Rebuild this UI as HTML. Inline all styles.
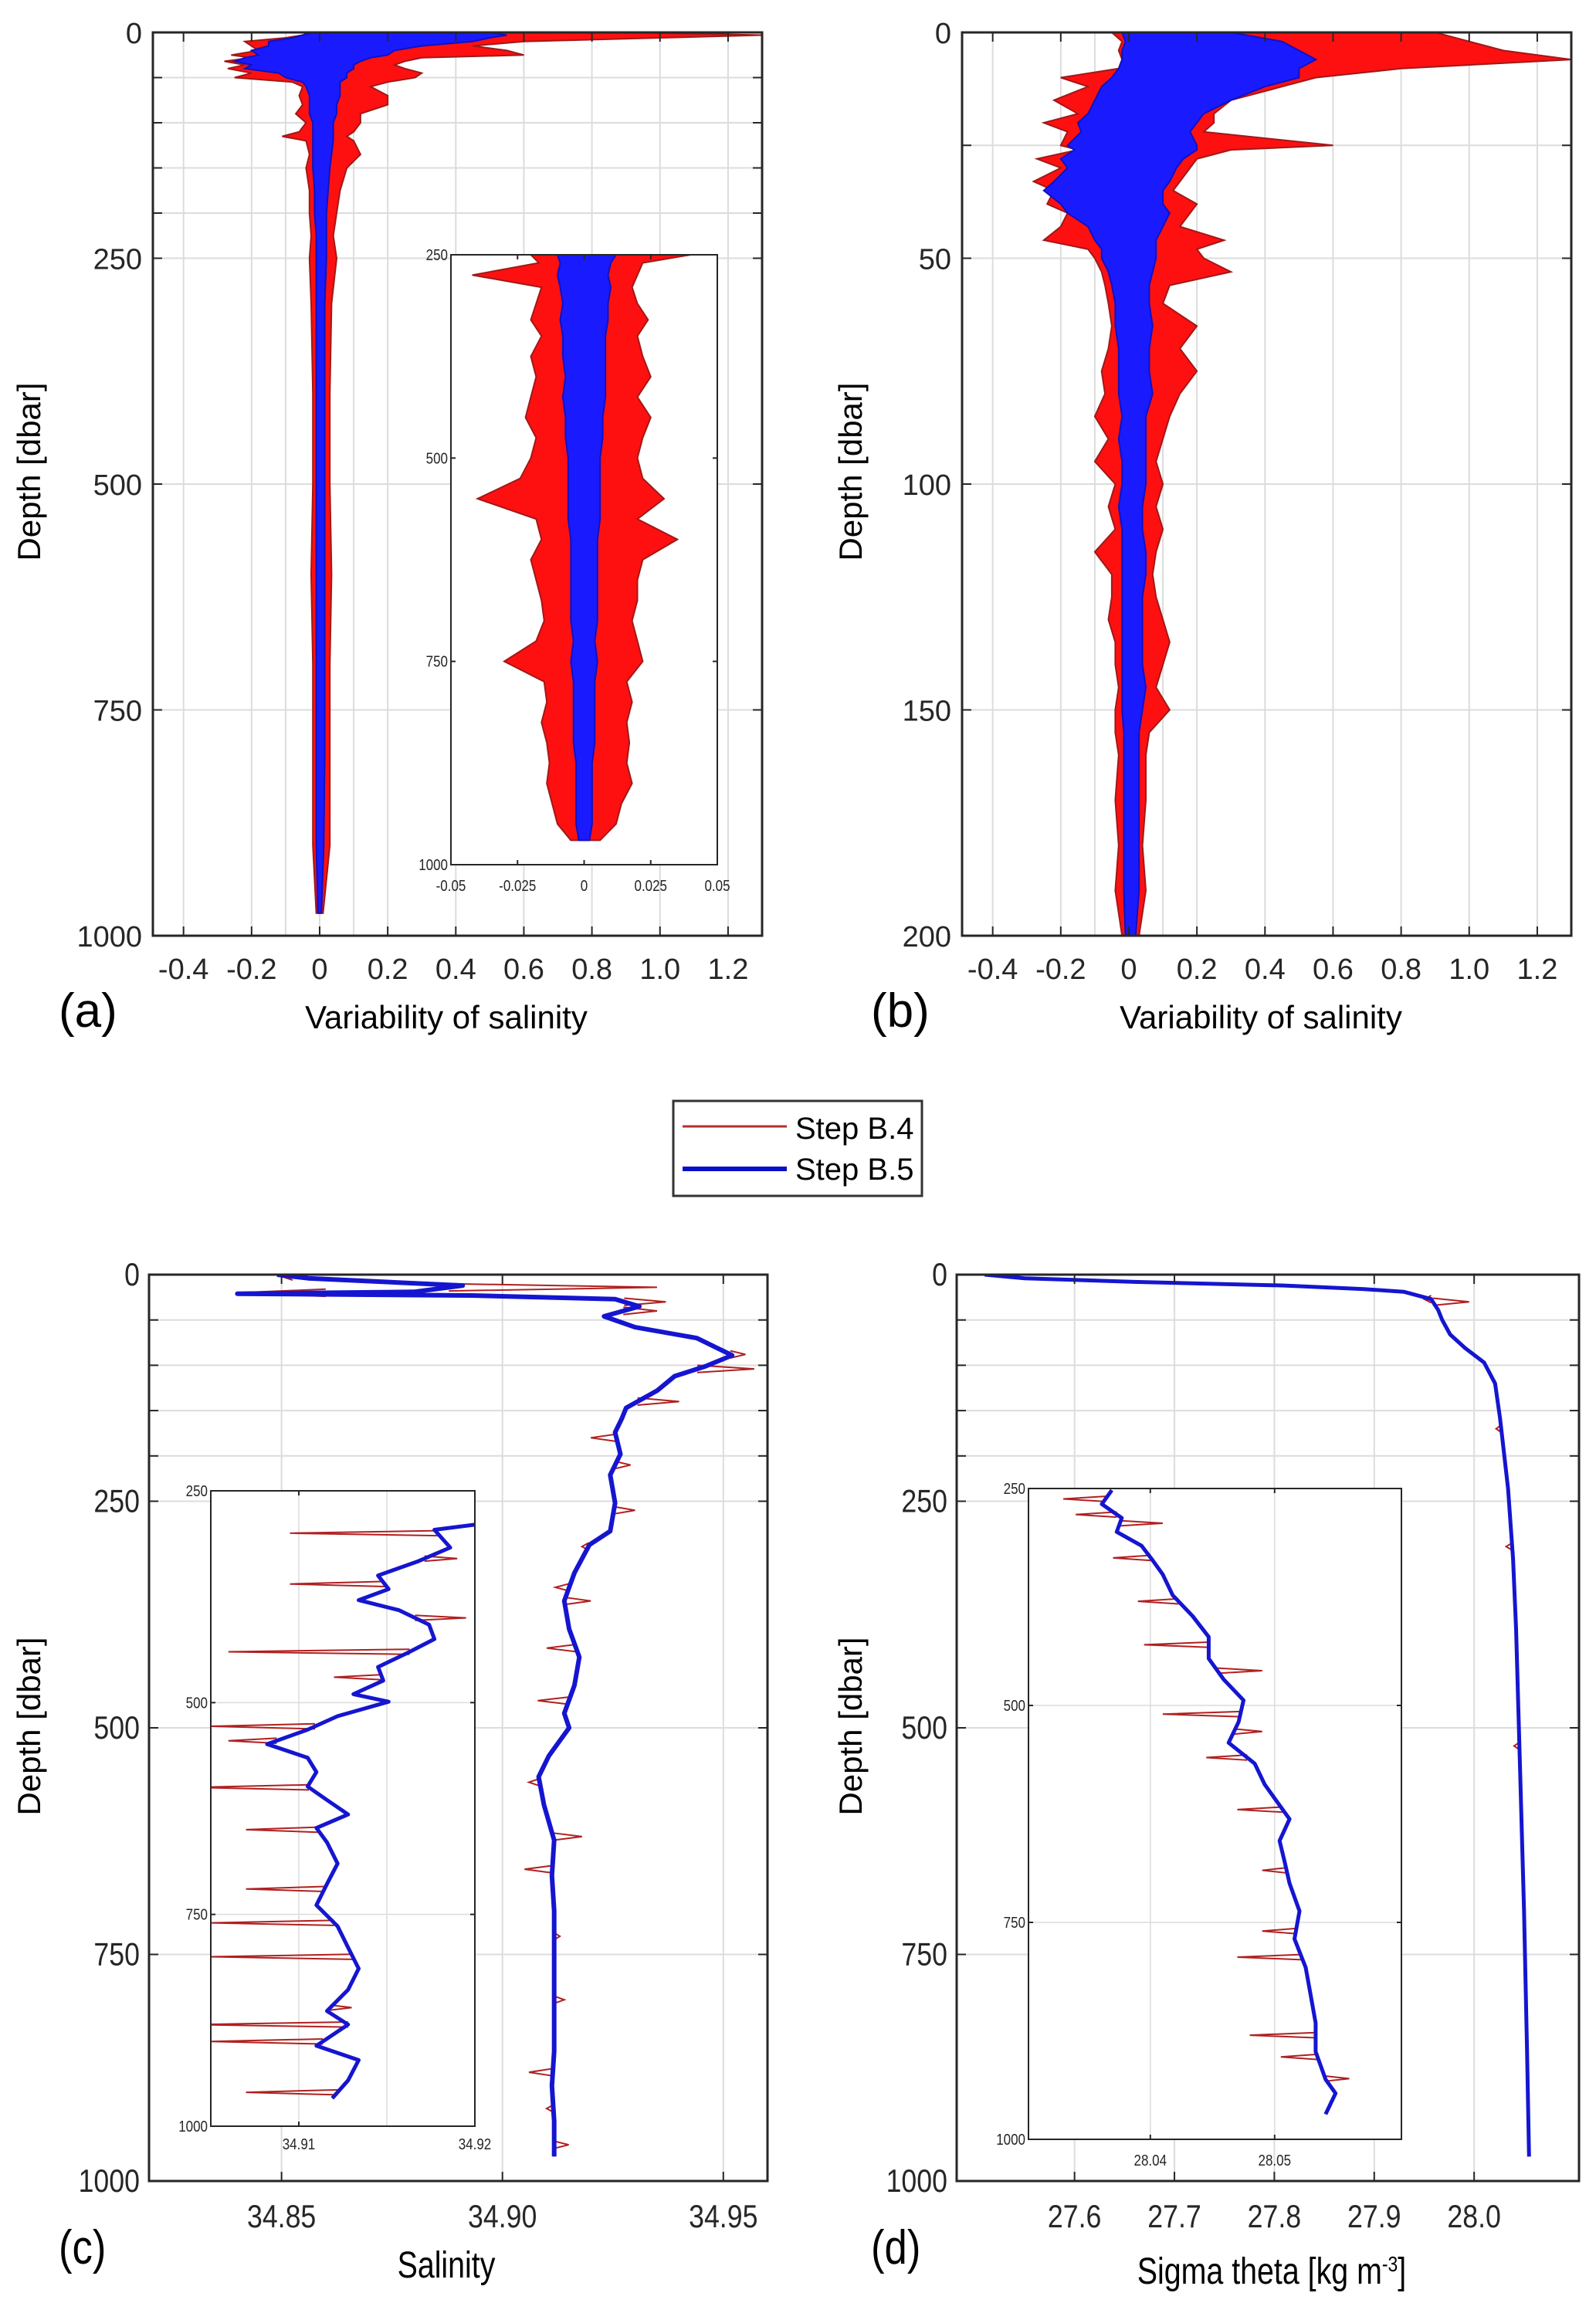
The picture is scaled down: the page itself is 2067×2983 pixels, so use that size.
<!DOCTYPE html>
<html><head><meta charset="utf-8"><style>
html,body{margin:0;padding:0;background:#fff;}
svg{display:block;}
.tk{font-family:"Liberation Sans",sans-serif;font-size:38px;fill:#262626;}
.tn{font-family:"Liberation Sans Narrow","Liberation Sans",sans-serif;font-size:42px;fill:#262626;}
.ti{font-family:"Liberation Sans Narrow","Liberation Sans",sans-serif;font-size:20px;fill:#262626;}
.lb{font-family:"Liberation Sans",sans-serif;font-size:42px;fill:#000;}
.ln{font-family:"Liberation Sans Narrow","Liberation Sans",sans-serif;font-size:48px;fill:#000;}
.pl{font-family:"Liberation Sans",sans-serif;font-size:62px;fill:#000;}
</style></head><body>
<svg id="fig" width="2067" height="2983" viewBox="0 0 2067 2983" xmlns="http://www.w3.org/2000/svg">
<rect width="2067" height="2983" fill="#fff"/>
<g id="gA"></g>
<g id="gB"></g>
<g id="gC"></g>
<g id="gD"></g>

<text class="pl" x="76" y="1330">(a)</text>
<text class="lb" x="578" y="1332" text-anchor="middle">Variability of salinity</text>
<text class="lb" x="52" y="611" text-anchor="middle" transform="rotate(-90 52 611)">Depth [dbar]</text>
<text class="pl" x="1128" y="1330">(b)</text>
<text class="lb" x="1633" y="1332" text-anchor="middle">Variability of salinity</text>
<text class="lb" x="1116" y="611" text-anchor="middle" transform="rotate(-90 1116 611)">Depth [dbar]</text>

<text class="pl" x="76" y="2932" transform="translate(76 0) scale(0.85 1) translate(-76 0)">(c)</text>
<text class="ln" x="578" y="2950" text-anchor="middle" transform="translate(578 0) scale(0.82 1) translate(-578 0)">Salinity</text>
<text class="lb" x="52" y="2236" text-anchor="middle" transform="rotate(-90 52 2236)">Depth [dbar]</text>
<text class="pl" x="1128" y="2932" transform="translate(1128 0) scale(0.85 1) translate(-1128 0)">(d)</text>
<text class="ln" x="1647" y="2958" text-anchor="middle" transform="translate(1647 0) scale(0.82 1) translate(-1647 0)">Sigma theta [kg m<tspan dy="-16" font-size="28">-3</tspan><tspan dy="16">]</tspan></text>
<text class="lb" x="1116" y="2236" text-anchor="middle" transform="rotate(-90 1116 2236)">Depth [dbar]</text>

<g>
<rect x="872" y="1426" width="322" height="123" fill="#fff" stroke="#333" stroke-width="3"/>
<line x1="884" y1="1459" x2="1019" y2="1459" stroke="#b03030" stroke-width="3"/>
<text x="1030" y="1475" font-family="Liberation Sans, sans-serif" font-size="40">Step B.4</text>
<line x1="884" y1="1514" x2="1019" y2="1514" stroke="#0a10c8" stroke-width="6"/>
<text x="1030" y="1528" font-family="Liberation Sans, sans-serif" font-size="40">Step B.5</text>
</g>
</svg>
<script>
// ---------- Panel (a): variability envelope, 0-1000 dbar ----------
const aDepth=[0,3,6,10,15,20,25,28,32,36,40,45,50,55,60,70,80,90,100,110,115,120,135,150,175,200,225,250,300,400,500,600,700,800,900,975];
const aRedL=[-0.03,-0.05,-0.1,-0.22,-0.2,-0.18,-0.26,-0.2,-0.28,-0.22,-0.27,-0.2,-0.25,-0.08,-0.05,-0.06,-0.05,-0.07,-0.04,-0.06,-0.11,-0.04,-0.03,-0.04,-0.03,-0.03,-0.025,-0.03,-0.025,-0.02,-0.02,-0.025,-0.02,-0.02,-0.02,-0.01];
const aRedR=[0.9,1.3,1.0,0.6,0.45,0.55,0.6,0.3,0.25,0.22,0.25,0.3,0.28,0.2,0.15,0.2,0.2,0.12,0.12,0.1,0.08,0.1,0.12,0.08,0.06,0.05,0.04,0.05,0.035,0.03,0.03,0.035,0.03,0.03,0.03,0.01];
const aBlueL=[-0.02,-0.05,-0.08,-0.15,-0.15,-0.2,-0.18,-0.22,-0.25,-0.2,-0.22,-0.12,-0.1,-0.05,-0.04,-0.03,-0.03,-0.03,-0.02,-0.02,-0.02,-0.02,-0.02,-0.02,-0.015,-0.015,-0.01,-0.01,-0.01,-0.01,-0.01,-0.01,-0.01,-0.01,-0.01,-0.005];
const aBlueR=[0.5,0.55,0.5,0.45,0.3,0.22,0.2,0.15,0.12,0.1,0.1,0.08,0.08,0.06,0.06,0.06,0.05,0.05,0.04,0.04,0.04,0.04,0.035,0.03,0.025,0.02,0.02,0.02,0.015,0.015,0.015,0.015,0.015,0.015,0.012,0.005];
const iaDepth=[250,260,275,290,310,330,350,375,400,425,450,475,500,525,550,575,600,625,650,675,700,725,750,775,800,825,850,875,900,925,950,970];
const iaRedL=[-0.02,-0.017,-0.042,-0.016,-0.018,-0.02,-0.016,-0.02,-0.018,-0.02,-0.022,-0.018,-0.02,-0.024,-0.04,-0.018,-0.016,-0.02,-0.018,-0.016,-0.015,-0.018,-0.03,-0.015,-0.014,-0.016,-0.014,-0.013,-0.014,-0.012,-0.01,-0.005];
const iaRedR=[0.04,0.022,0.02,0.018,0.02,0.024,0.02,0.022,0.025,0.02,0.025,0.022,0.02,0.022,0.03,0.02,0.035,0.022,0.02,0.02,0.018,0.02,0.022,0.016,0.018,0.016,0.017,0.016,0.018,0.014,0.012,0.006];
const iaBlueL=[-0.01,-0.009,-0.01,-0.009,-0.008,-0.009,-0.008,-0.008,-0.007,-0.008,-0.007,-0.007,-0.006,-0.006,-0.006,-0.006,-0.005,-0.005,-0.005,-0.005,-0.005,-0.004,-0.005,-0.004,-0.004,-0.004,-0.004,-0.003,-0.003,-0.003,-0.003,-0.002];
const iaBlueR=[0.012,0.01,0.009,0.01,0.009,0.009,0.008,0.008,0.008,0.008,0.007,0.007,0.006,0.006,0.006,0.006,0.005,0.005,0.005,0.005,0.005,0.004,0.005,0.004,0.004,0.004,0.004,0.003,0.003,0.003,0.003,0.002];
// ---------- Panel (b): 0-200 dbar ----------
const bDepth=[0,2,4,6,8,10,12,15,18,20,22,25,26,28,30,33,35,38,40,43,46,48,50,53,56,60,65,70,75,80,85,90,95,100,105,110,115,120,125,130,135,140,145,150,155,160,170,180,190,200];
const bRedL=[-0.05,-0.02,-0.03,-0.02,-0.03,-0.2,-0.12,-0.22,-0.15,-0.25,-0.18,-0.2,-0.15,-0.27,-0.2,-0.28,-0.22,-0.24,-0.18,-0.2,-0.25,-0.12,-0.1,-0.08,-0.07,-0.06,-0.05,-0.06,-0.08,-0.07,-0.1,-0.06,-0.1,-0.04,-0.06,-0.04,-0.1,-0.05,-0.05,-0.06,-0.04,-0.04,-0.03,-0.04,-0.04,-0.03,-0.04,-0.03,-0.04,-0.02];
const bRedR=[0.9,1.0,1.1,1.3,0.8,0.55,0.45,0.3,0.25,0.25,0.22,0.6,0.3,0.2,0.18,0.15,0.13,0.2,0.18,0.15,0.28,0.2,0.22,0.3,0.12,0.1,0.2,0.15,0.2,0.15,0.12,0.1,0.08,0.1,0.08,0.1,0.08,0.07,0.08,0.1,0.12,0.1,0.08,0.12,0.06,0.05,0.05,0.04,0.05,0.03];
const bBlueL=[-0.02,-0.01,-0.02,-0.02,-0.03,-0.05,-0.08,-0.1,-0.12,-0.15,-0.14,-0.18,-0.16,-0.2,-0.18,-0.22,-0.25,-0.2,-0.18,-0.12,-0.1,-0.08,-0.08,-0.06,-0.05,-0.04,-0.04,-0.03,-0.03,-0.03,-0.02,-0.03,-0.02,-0.02,-0.03,-0.02,-0.02,-0.02,-0.02,-0.02,-0.02,-0.02,-0.02,-0.02,-0.015,-0.015,-0.015,-0.015,-0.015,-0.01];
const bBlueR=[0.3,0.45,0.5,0.55,0.5,0.5,0.4,0.3,0.22,0.2,0.18,0.2,0.2,0.16,0.14,0.12,0.1,0.1,0.12,0.1,0.08,0.08,0.08,0.07,0.06,0.06,0.07,0.06,0.06,0.07,0.05,0.05,0.05,0.05,0.04,0.04,0.05,0.05,0.04,0.04,0.04,0.04,0.05,0.04,0.03,0.03,0.03,0.03,0.03,0.02];
// ---------- Panel (c): salinity ----------
const cDepth=[0,4,12,19,21,23,27,35,46,58,70,81,89,101,112,128,147,159,174,198,221,252,283,298,329,360,391,422,453,484,500,531,554,585,624,663,702,740,779,818,857,895,934,973];
const cSal=[34.849,34.856,34.891,34.880,34.840,34.893,34.9255,34.931,34.923,34.930,34.944,34.9486,34.952,34.946,34.939,34.935,34.928,34.927,34.9255,34.9267,34.9244,34.9255,34.9244,34.9197,34.9163,34.914,34.9151,34.9174,34.9163,34.914,34.9151,34.9105,34.9082,34.9094,34.9117,34.9112,34.9117,34.9117,34.9117,34.9117,34.9117,34.9112,34.9117,34.9117];
const cSpikeDepth=[2,14,20,30,40,88,104,140,180,210,260,300,345,360,412,470,560,620,656,730,800,880,920,960];
const cSpikeVal=[34.85,34.935,34.84,34.937,34.935,34.955,34.957,34.94,34.92,34.929,34.93,34.918,34.912,34.92,34.91,34.908,34.906,34.918,34.905,34.913,34.914,34.906,34.91,34.915];
const icDepth=[290,296,317,333,350,366,379,391,408,425,441,458,474,490,499,516,532,549,565,582,599,615,632,648,665,690,714,739,764,789,814,839,864,880,905,922,946,967];
const icSal=[34.92,34.9177,34.9186,34.9168,34.9145,34.9151,34.9134,34.9157,34.9174,34.9177,34.9162,34.9145,34.9148,34.9131,34.9151,34.9122,34.9105,34.9082,34.9105,34.911,34.9105,34.9116,34.9128,34.911,34.9116,34.9122,34.9116,34.911,34.9122,34.9128,34.9134,34.9128,34.9116,34.9128,34.911,34.9134,34.9128,34.9119];
const icSpikeDepth=[300,330,360,400,440,470,528,545,600,650,720,760,800,860,880,900,960];
const icSpikeVal=[34.9095,34.919,34.9095,34.9195,34.906,34.912,34.905,34.906,34.904,34.907,34.907,34.905,34.905,34.913,34.904,34.905,34.907];
// ---------- Panel (d): sigma theta ----------
const dDepth=[0,4,8,12,16,19,27,39,50,66,81,97,120,159,236,314,391,547,702,857,973];
const dSig=[27.51,27.55,27.66,27.81,27.89,27.93,27.957,27.964,27.968,27.976,27.991,28.01,28.021,28.026,28.034,28.039,28.042,28.046,28.050,28.053,28.055];
const dSpikeDepth=[27,30,120,170,300,520];
const dSpikeVal=[27.95,27.995,28.02,28.022,28.032,28.04];
const idDepth=[252,268,284,300,316,333,349,373,397,421,446,470,494,519,543,567,591,615,631,656,680,705,737,769,802,834,866,899,931,947,971];
const idSig=[28.0369,28.0361,28.0377,28.0373,28.0393,28.0402,28.041,28.0418,28.0434,28.0447,28.0447,28.0459,28.0475,28.0471,28.0463,28.0484,28.0492,28.0504,28.0512,28.0504,28.0508,28.0512,28.052,28.0516,28.0525,28.0529,28.0533,28.0533,28.0541,28.0549,28.0541];
const idSpikeDepth=[262,280,290,330,380,430,460,510,530,560,620,690,760,790,880,905,930];
const idSpikeVal=[28.033,28.034,28.041,28.037,28.039,28.0395,28.049,28.041,28.049,28.0445,28.047,28.049,28.049,28.047,28.048,28.0505,28.056];
// tick labels
const abXTicks=[-0.4,-0.2,0,0.2,0.4,0.6,0.8,1.0,1.2];
const abXTickLabels=["-0.4","-0.2","0","0.2","0.4","0.6","0.8","1.0","1.2"];
const aYTicks=[0,250,500,750,1000];
const bYTicks=[0,50,100,150,200];
const cXTicks=[34.85,34.90,34.95];
const cXTickLabels=["34.85","34.90","34.95"];
const dXTicks=[27.6,27.7,27.8,27.9,28.0];
const dXTickLabels=["27.6","27.7","27.8","27.9","28.0"];
const iaXTicks=[-0.05,-0.025,0,0.025,0.05];
const iaXTickLabels=["-0.05","-0.025","0","0.025","0.05"];
const insetYTicks=[250,500,750,1000];
const icXTicks=[34.91,34.92];
const idXTicks=[28.04,28.05];

const NS="http://www.w3.org/2000/svg";
function mk(parent,tag,attrs){const e=document.createElementNS(NS,tag);for(const k in attrs)e.setAttribute(k,attrs[k]);parent.appendChild(e);return e;}
function axis(b){return {x:v=>b.x0+(v-b.xl[0])/(b.xl[1]-b.xl[0])*(b.x1-b.x0), y:d=>b.y0+(d-b.yl[0])/(b.yl[1]-b.yl[0])*(b.y1-b.y0)};}

function frame(g,b,gx,gy,small){
  const s=axis(b);
  const bg=mk(g,'rect',{x:b.x0,y:b.y0,width:b.x1-b.x0,height:b.y1-b.y0,fill:'#fff'});
  
  
  gx.forEach(v=>{const l=mk(g,'line',{x1:s.x(v),x2:s.x(v),y1:b.y0,y2:b.y1,stroke:'#dcdcdc','stroke-width':small?1.5:2});
    
    });
  gy.forEach(v=>{const l=mk(g,'line',{y1:s.y(v),y2:s.y(v),x1:b.x0,x2:b.x1,stroke:'#dcdcdc','stroke-width':small?1.5:2});
    
    });
  return s;
}
function box(g,b,s,xt,yt,small){
  const tl=small?6:12;
  xt.forEach(v=>{mk(g,'line',{x1:s.x(v),x2:s.x(v),y1:b.y1,y2:b.y1-tl,stroke:'#262626','stroke-width':2});
    mk(g,'line',{x1:s.x(v),x2:s.x(v),y1:b.y0,y2:b.y0+tl,stroke:'#262626','stroke-width':2});});
  yt.forEach(v=>{mk(g,'line',{y1:s.y(v),y2:s.y(v),x1:b.x0,x2:b.x0+tl,stroke:'#262626','stroke-width':2});
    mk(g,'line',{y1:s.y(v),y2:s.y(v),x1:b.x1,x2:b.x1-tl,stroke:'#262626','stroke-width':2});});
  const r=mk(g,'rect',{x:b.x0,y:b.y0,width:b.x1-b.x0,height:b.y1-b.y0,fill:'none',stroke:'#262626','stroke-width':small?2:3});
  
  
}
function labels(g,b,s,xt,xl,yt,cls,xdy,ydx){
  const narrow=(cls==='tn'||cls==='ti');
  xt.forEach((v,i)=>{const x=s.x(v);const t=mk(g,'text',{x:x,y:b.y1+xdy,'text-anchor':'middle',class:cls});t.textContent=xl[i];
    if(narrow)t.setAttribute('transform',`translate(${x} 0) scale(0.85 1) translate(${-x} 0)`);
    
    });
  yt.forEach(v=>{const x=b.x0-ydx;const t=mk(g,'text',{x:x,y:s.y(v)+ (cls==='ti'?7:14),'text-anchor':'end',class:cls});t.textContent=String(v);
    if(narrow)t.setAttribute('transform',`translate(${x} 0) scale(0.85 1) translate(${-x} 0)`);
    
    });
}
function envelope(g,s,D,L,R,fill,stroke,name){
  let pts=[];
  for(let i=0;i<D.length;i++)pts.push(s.x(R[i]).toFixed(1)+','+s.y(D[i]).toFixed(1));
  for(let i=D.length-1;i>=0;i--)pts.push(s.x(L[i]).toFixed(1)+','+s.y(D[i]).toFixed(1));
  const p=mk(g,'polygon',{points:pts.join(' '),fill:fill,stroke:stroke,'stroke-width':2,'stroke-linejoin':'miter'});
  
  
}
function line(g,s,D,V,color,w,name){
  const pts=D.map((d,i)=>s.x(V[i]).toFixed(1)+','+s.y(d).toFixed(1)).join(' ');
  const p=mk(g,'polyline',{points:pts,fill:'none',stroke:color,'stroke-width':w,'stroke-linejoin':'round'});
  
  
}
function interp(D,V,d){if(d<=D[0])return V[0];for(let i=1;i<D.length;i++){if(d<=D[i]){const t=(d-D[i-1])/(D[i]-D[i-1]);return V[i-1]+t*(V[i]-V[i-1]);}}return V[V.length-1];}
function spikes(g,s,D,V,SD,SV,dd,name){
  SD.forEach((d,i)=>{const base=interp(D,V,d);
    const p=mk(g,'polyline',{points:`${s.x(base)},${s.y(d-dd)} ${s.x(SV[i])},${s.y(d)} ${s.x(base)},${s.y(d+dd)}`,fill:'none',stroke:'#b02020','stroke-width':2});
    
    });
}
function clip(g,b,id){const c=mk(document.getElementById('fig'),'clipPath',{id:id});mk(c,'rect',{x:b.x0,y:b.y0,width:b.x1-b.x0,height:b.y1-b.y0});const gg=mk(g,'g',{'clip-path':`url(#${id})`});return gg;}

const gridABx=[-0.4,-0.2,-0.1,0,0.1,0.2,0.4,0.6,0.8,1.0,1.2];

// Panel A
(function(){
  const g=document.getElementById('gA');
  const b={x0:198,x1:987,y0:42,y1:1212,xl:[-0.49,1.3],yl:[0,1000]};
  const s=frame(g,b,gridABx,[50,100,150,200,250,500,750]);
  const cg=clip(g,b,'clA');
  envelope(cg,s,aDepth,aRedL,aRedR,'#ff1010','#a01818','envelope-step-b4');
  envelope(cg,s,aDepth,aBlueL,aBlueR,'#1a1aff','#1010c0','envelope-step-b5');
  box(g,b,s,abXTicks,aYTicks.concat([50,100,150,200]));
  labels(g,b,s,abXTicks,abXTickLabels,aYTicks,'tk',56,14);
  const ib={x0:584,x1:929,y0:330,y1:1120,xl:[-0.05,0.05],yl:[250,1000]};
  const ig=mk(g,'g',{});
  const is=frame(ig,ib,[],[]);
  const icg=clip(ig,ib,'clIA');
  envelope(icg,is,iaDepth,iaRedL,iaRedR,'#ff1010','#a01818','inset-envelope-step-b4');
  envelope(icg,is,iaDepth,iaBlueL,iaBlueR,'#1a1aff','#1010c0','inset-envelope-step-b5');
  box(ig,ib,is,iaXTicks,insetYTicks,true);
  labels(ig,ib,is,iaXTicks,iaXTickLabels,insetYTicks,'ti',34,4);
})();
// Panel B
(function(){
  const g=document.getElementById('gB');
  const b={x0:1246,x1:2035,y0:42,y1:1212,xl:[-0.49,1.3],yl:[0,200]};
  const s=frame(g,b,gridABx,[25,50,100,150]);
  const cg=clip(g,b,'clB');
  envelope(cg,s,bDepth,bRedL,bRedR,'#ff1010','#a01818','envelope-step-b4');
  envelope(cg,s,bDepth,bBlueL,bBlueR,'#1a1aff','#1010c0','envelope-step-b5');
  box(g,b,s,abXTicks,bYTicks.concat([25]));
  labels(g,b,s,abXTicks,abXTickLabels,bYTicks,'tk',56,14);
})();
// Panel C
(function(){
  const g=document.getElementById('gC');
  const b={x0:193,x1:994,y0:1651,y1:2825,xl:[34.82,34.96],yl:[0,1000]};
  const s=frame(g,b,cXTicks,[50,100,150,200,250,500,750]);
  const cg=clip(g,b,'clC');
  spikes(cg,s,cDepth,cSal,cSpikeDepth,cSpikeVal,4,'spike-step-b4');
  line(cg,s,cDepth,cSal,'#b02020',3,'line-step-b4');
  line(cg,s,cDepth,cSal,'#1515d0',6,'line-step-b5');
  box(g,b,s,cXTicks,[0,50,100,150,200,250,500,750,1000]);
  labels(g,b,s,cXTicks,cXTickLabels,[0,250,500,750,1000],'tn',60,12);
  const ib={x0:273,x1:615,y0:1931,y1:2754,xl:[34.905,34.92],yl:[250,1000]};
  const ig=mk(g,'g',{});
  const is=frame(ig,ib,[34.91,34.915],[500,750],true);
  const icg=clip(ig,ib,'clIC');
  spikes(icg,is,icDepth,icSal,icSpikeDepth,icSpikeVal,3,'inset-spike-step-b4');
  line(icg,is,icDepth,icSal,'#b02020',3,'inset-line-step-b4');
  line(icg,is,icDepth,icSal,'#1515d0',5,'inset-line-step-b5');
  box(ig,ib,is,icXTicks,insetYTicks,true);
  labels(ig,ib,is,icXTicks,["34.91","34.92"],insetYTicks,'ti',30,4);
})();
// Panel D
(function(){
  const g=document.getElementById('gD');
  const b={x0:1239,x1:2045,y0:1651,y1:2825,xl:[27.482,28.105],yl:[0,1000]};
  const s=frame(g,b,dXTicks,[50,100,150,200,250,500,750]);
  const cg=clip(g,b,'clD');
  spikes(cg,s,dDepth,dSig,dSpikeDepth,dSpikeVal,4,'spike-step-b4');
  line(cg,s,dDepth,dSig,'#b02020',3,'line-step-b4');
  line(cg,s,dDepth,dSig,'#1515d0',5,'line-step-b5');
  box(g,b,s,dXTicks,[0,50,100,150,200,250,500,750,1000]);
  labels(g,b,s,dXTicks,dXTickLabels,[0,250,500,750,1000],'tn',60,12);
  const ib={x0:1332,x1:1815,y0:1928,y1:2771,xl:[28.0302,28.0602],yl:[250,1000]};
  const ig=mk(g,'g',{});
  const is=frame(ig,ib,idXTicks,[500,750],true);
  const icg=clip(ig,ib,'clID');
  spikes(icg,is,idDepth,idSig,idSpikeDepth,idSpikeVal,3,'inset-spike-step-b4');
  line(icg,is,idDepth,idSig,'#b02020',3,'inset-line-step-b4');
  line(icg,is,idDepth,idSig,'#1515d0',5,'inset-line-step-b5');
  box(ig,ib,is,idXTicks,insetYTicks,true);
  labels(ig,ib,is,idXTicks,["28.04","28.05"],insetYTicks,'ti',34,4);
})();
</script>
</body></html>
